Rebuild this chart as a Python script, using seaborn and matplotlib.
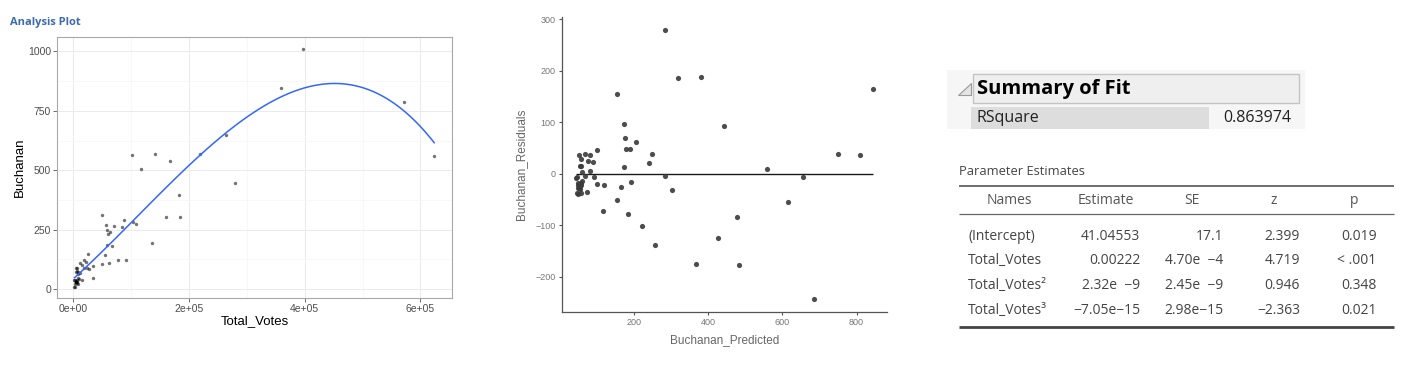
import numpy as np
import pandas as pd
import matplotlib
matplotlib.use("Agg")
import matplotlib.pyplot as plt
from matplotlib.patches import Rectangle, Polygon
import seaborn as sns

# Analysis plot: one point per county
total_votes = [85000, 8100, 58500, 8600, 218500, 572000, 4800, 66600, 57500, 58000,
               92000, 18500, 624000, 7800, 4600, 263500, 116700, 27500, 4600, 15000,
               5400, 3400, 5800, 3900, 6000, 7900, 64400, 35300, 359000, 7400,
               49500, 16300, 5600, 2500, 88500, 184000, 103000, 12200, 2400, 6600,
               109500, 102300, 62000, 34300, 24000, 70100, 9800, 279500, 55500, 142000,
               397000, 168000, 26500, 61000, 77600, 50000, 160500, 136300, 22000, 12400,
               6800, 3800, 183000, 8600, 18300, 7800]
buchanan = [262, 73, 248, 65, 570, 789, 90, 182, 270, 186,
            122, 89, 561, 36, 29, 650, 504, 83, 33, 38,
            29, 9, 71, 23, 30, 22, 242, 98, 845, 76,
            105, 102, 29, 10, 289, 305, 282, 67, 39, 29,
            272, 563, 108, 47, 90, 267, 43, 446, 145, 570,
            1010, 538, 148, 230, 124, 311, 305, 194, 114, 108,
            27, 37, 396, 46, 120, 88]

# Residual plot
buchanan_predicted = [283, 318, 381, 844, 156, 444, 173, 177, 205, 178,
                      189, 100, 249, 241, 174, 749, 808, 560, 285, 656,
                      302, 192, 165, 120, 102, 154, 117, 185, 223, 258,
                      368, 482, 427, 478, 615, 686, 52, 69, 82, 91,
                      77, 58, 55, 59, 83, 60, 68, 94, 45, 73,
                      57, 46, 49, 50, 54, 52, 57, 61, 56, 49,
                      51, 53, 54, 56, 58, 47]
buchanan_residuals = [279, 185, 188, 165, 154, 93, 96, 70, 61, 47,
                      48, 46, 39, 20, 12, 39, 36, 9, -4, -7,
                      -32, -16, -25, -23, -20, -52, -72, -78, -102, -138,
                      -176, -178, -124, -84, -55, -243, 37, 39, 37, 22,
                      24, 28, 15, 14, 6, 4, -4, -6, -8, -35,
                      -37, -38, -40, -19, -24, -28, -19, -15, -23, -27,
                      -22, -24, -24, -29, -22, -7]

# Summary tables
fit_label = "RSquare"
fit_value = "0.863974"
col_headers = ["Names", "Estimate", "SE", "z", "p"]
param_names = ["(Intercept)", "Total_Votes", "Total_Votes\u00b2", "Total_Votes\u00b3"]
param_estimate = ["41.04553", "0.00222", "2.32e  \u22129", "\u22127.05e\u221215"]
param_se = ["17.1", "4.70e  \u22124", "2.45e  \u22129", "2.98e\u221215"]
param_z = ["2.399", "4.719", "0.946", "\u22122.363"]
param_p = ["0.019", "< .001", "0.348", "0.021"]

votes = pd.DataFrame({"Total_Votes": total_votes, "Buchanan": buchanan})
resid = pd.DataFrame({"Buchanan_Predicted": buchanan_predicted,
                      "Buchanan_Residuals": buchanan_residuals})

sns.set_theme(style="white")
plt.rcParams["font.family"] = ["Liberation Sans", "DejaVu Sans"]

W, H = 1412, 366
fig = plt.figure(figsize=(W / 100, H / 100), dpi=100)


def px_axes(x0, y0, x1, y1):
    return fig.add_axes([x0 / W, 1 - y1 / H, (x1 - x0) / W, (y1 - y0) / H])


# ---- left: scatter with cubic fit
ax1 = px_axes(57, 37, 452, 298)
sns.scatterplot(data=votes, x="Total_Votes", y="Buchanan", color="black",
                alpha=0.55, s=6, linewidth=0, ax=ax1, zorder=3)
sns.regplot(data=votes, x="Total_Votes", y="Buchanan", order=3, ci=None,
            scatter=False, truncate=True, ax=ax1,
            line_kws={"color": "#3366FF", "lw": 1.1, "zorder": 4})
ax1.set_xlim(-27600, 654500)
ax1.set_ylim(-38, 1061)
ax1.set_xticks([0, 2e5, 4e5, 6e5])
ax1.set_xticklabels(["0e+00", "2e+05", "4e+05", "6e+05"])
ax1.set_xticks([1e5, 3e5, 5e5], minor=True)
ax1.set_yticks([0, 250, 500, 750, 1000])
ax1.set_yticks([125, 375, 625, 875], minor=True)
ax1.grid(which="major", color="#ebebeb", lw=0.7)
ax1.grid(which="minor", color="#f5f5f5", lw=0.5)
ax1.set_axisbelow(True)
ax1.tick_params(which="minor", length=0)
ax1.tick_params(which="major", bottom=True, left=True, length=2.75, width=0.5,
                color="#333333", labelsize=7.5, labelcolor="#4d4d4d", pad=1.5)
for sp in ax1.spines.values():
    sp.set_visible(True)
    sp.set_color("#a8a8a8")
    sp.set_linewidth(0.8)
ax1.set_xlabel("Total_Votes", fontsize=9.5, labelpad=1, color="black")
ax1.set_ylabel("Buchanan", fontsize=9.5, labelpad=1.5, color="black")
fig.text(10 / W, 1 - 22 / H, "Analysis Plot", fontsize=8, fontweight="bold",
         color="#3c6bb0", family=["Open Sans", "DejaVu Sans"], va="center")

# ---- middle: residuals vs predicted
ax2 = px_axes(561.7, 17, 886.7, 312)
sns.scatterplot(data=resid, x="Buchanan_Predicted", y="Buchanan_Residuals",
                color="#3a3a3a", alpha=0.9, s=14, linewidth=0, ax=ax2, zorder=3)
ax2.hlines(0, resid["Buchanan_Predicted"].min(), resid["Buchanan_Predicted"].max(),
           color="#1a1a1a", lw=1.0, zorder=2)
ax2.set_xlim(6, 881)
ax2.set_ylim(-268.5, 304)
sns.despine(ax=ax2)
for side in ["left", "bottom"]:
    ax2.spines[side].set_color("#555555")
    ax2.spines[side].set_linewidth(0.9)
ax2.set_xticks([200, 400, 600, 800])
ax2.set_yticks([-200, -100, 0, 100, 200, 300])
ax2.tick_params(bottom=True, left=True, length=2.5, width=0.8, color="#555555",
                labelsize=6.5, labelcolor="#777777", pad=2)
ax2.set_xlabel("Buchanan_Predicted", fontsize=8.5, color="#666666", labelpad=5)
ax2.set_ylabel("Buchanan_Residuals", fontsize=8.5, color="#666666", labelpad=6)

# ---- right: summary of fit + parameter table
tab = fig.add_axes([0, 0, 1, 1])
tab.set_xlim(0, W)
tab.set_ylim(H, 0)
tab.axis("off")
tf = ["Open Sans", "DejaVu Sans"]

tab.add_patch(Rectangle((947, 70), 358, 59, facecolor="#f6f6f6", edgecolor="none"))
tab.add_patch(Rectangle((972.7, 74), 326.6, 29.3, facecolor="#efefef",
                        edgecolor="#c4c4c4", lw=1))
tab.add_patch(Rectangle((971, 106.7), 238.3, 22.3, facecolor="#dddddd", edgecolor="none"))
tab.add_patch(Polygon([(958, 95), (971, 95), (971, 83)], closed=True,
                      facecolor="#e4e4e4", edgecolor="#9a9a9a", lw=0.8))
tab.text(976.7, 89, "Summary of Fit", fontsize=14.5, fontweight="bold",
         family=tf, va="center", ha="left", color="black")
tab.text(976, 117.5, fit_label, fontsize=11.5, family=tf, va="center", color="#222222")
tab.text(1291.7, 117.5, fit_value, fontsize=11.5, family=tf, va="center",
         ha="right", color="#222222")

tab.text(959, 171.5, "Parameter Estimates", fontsize=9.3, family=tf, va="center",
         color="#444444")
tab.hlines(185.7, 959.3, 1394, color="#555555", lw=1.2)
tab.hlines(214.3, 959.3, 1394, color="#666666", lw=0.9)
tab.hlines(326.7, 959.3, 1394, color="#444444", lw=2.0)

header_x = [1009.3, 1105.7, 1192, 1274, 1354]
for hx, label in zip(header_x, col_headers):
    tab.text(hx, 200.7, label, fontsize=10, family=tf, va="center", ha="center",
             color="#555555")

row_y = [236.7, 261, 285.7, 310.7]
for i, ry in enumerate(row_y):
    tab.text(968.3, ry, param_names[i], fontsize=10, family=tf, va="center",
             ha="left", color="#444444")
    for cx, col in zip([1140, 1223.3, 1300, 1376.7],
                       [param_estimate, param_se, param_z, param_p]):
        tab.text(cx, ry, col[i], fontsize=10, family=tf, va="center", ha="right",
                 color="#444444")

fig.savefig("out.png", dpi=100, facecolor="white")
